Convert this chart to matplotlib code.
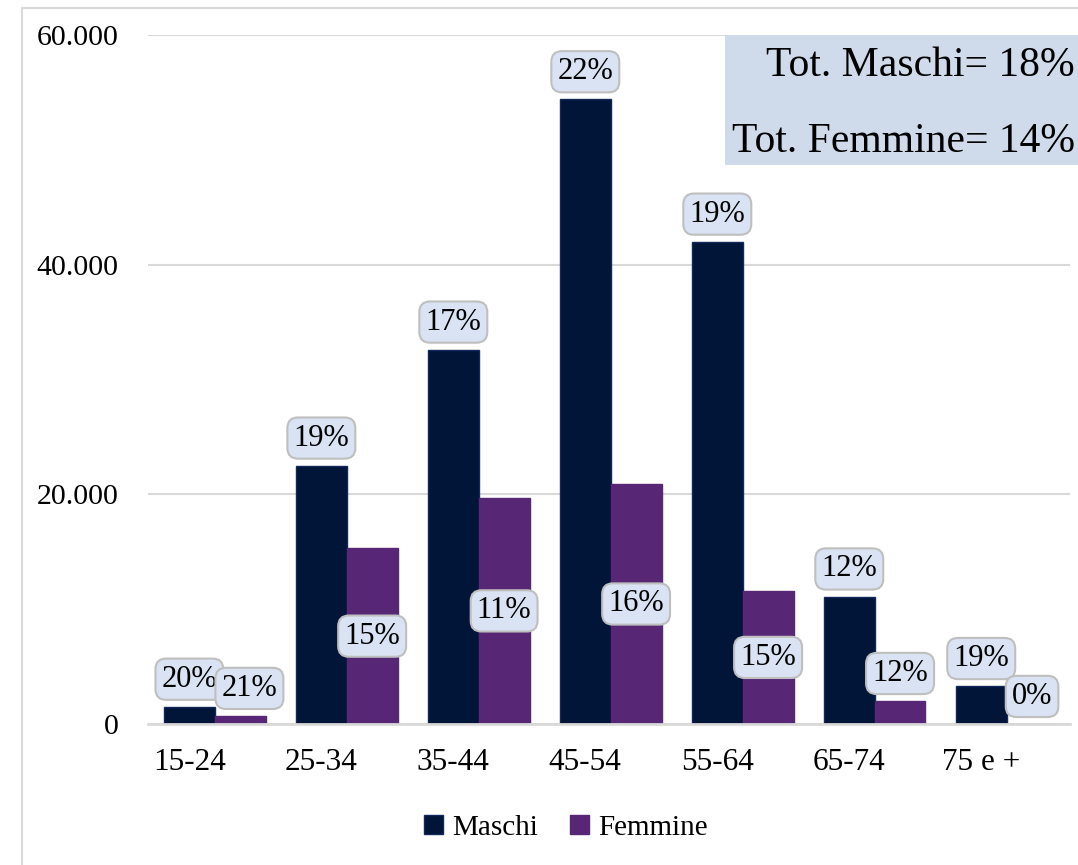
import matplotlib.pyplot as plt
import numpy as np
from matplotlib.patches import Rectangle

plt.rcParams['font.family'] = ['Liberation Serif', 'DejaVu Serif']

categories = ['15-24', '25-34', '35-44', '45-54', '55-64', '65-74', '75 e +']
maschi = [1500, 22500, 32600, 54400, 42000, 11100, 3300]
femmine = [700, 15300, 19700, 20900, 11600, 2000, 0]
maschi_pct = ['20%', '19%', '17%', '22%', '19%', '12%', '19%']
femmine_pct = ['21%', '15%', '11%', '16%', '15%', '12%', '0%']
femmine_pos = ['above', 'center', 'center', 'center', 'center', 'above', 'above']
totali = ['Tot. Maschi= 18%', 'Tot. Femmine= 14%']

col_m = '#001538'
col_f = '#572675'
w = 0.385

fig = plt.figure(figsize=(10.78, 8.65), dpi=100)
ax = fig.add_axes([148/1078, 141/865, 922/1078, 689/865])

x = np.arange(len(categories))
ax.bar(x - w/2, maschi, w, color=col_m, edgecolor='#10285a', linewidth=1, label='Maschi', zorder=3)
ax.bar(x + w/2, femmine, w, color=col_f, edgecolor=col_f, linewidth=1, label='Femmine', zorder=3)

ax.set_xlim(-0.5 - 0.006, 6.5 - 0.02)
ax.set_ylim(0, 60000)
ax.set_yticks([0, 20000, 40000, 60000])
ax.set_yticklabels(['0', '20.000', '40.000', '60.000'])
ax.yaxis.grid(True, color='#d9d9d9', linewidth=1.5, zorder=0)
ax.set_axisbelow(True)
for s in ['top', 'right', 'left']:
    ax.spines[s].set_visible(False)
ax.spines['bottom'].set_color('#d9d9d9')
ax.spines['bottom'].set_linewidth(2)
ax.spines['bottom'].set_zorder(4)
ax.tick_params(axis='y', length=0, labelsize=21.5, pad=21)
ax.tick_params(axis='x', length=0, labelsize=22.5, pad=17)
ax.set_xticks(x - w/2)
ax.set_xticklabels(categories)

box = dict(boxstyle='round,pad=0.2,rounding_size=0.35', fc='#dae3f3', ec='#bfbfbf', lw=1.5)
for i in range(len(categories)):
    ax.text(x[i] - w/2, maschi[i] + 2400, maschi_pct[i], ha='center', va='center',
            fontsize=22, bbox=box, zorder=5)
    if femmine_pos[i] == 'center':
        yf = femmine[i] / 2
    else:
        yf = femmine[i] + 2400
    xf = x[i] + w/2 + (0.07 if i == 0 else 0)
    ax.text(xf, yf, femmine_pct[i], ha='center', va='center',
            fontsize=22, bbox=box, zorder=5)

# riquadro totali
fig.patches.append(Rectangle((725/1078, 1 - 165/865), 360/1078, 130/865,
                             transform=fig.transFigure, fc='#cfdbea', ec='none', zorder=6))
fig.text(1075/1078, 1 - 66/865, totali[0], ha='right', va='center', fontsize=30, zorder=7)
fig.text(1075/1078, 1 - 142/865, totali[1], ha='right', va='center', fontsize=30, zorder=7)

# bordo grafico
fig.patches.append(Rectangle((22/1078, -0.1), 1.2, 1 - 8/865 + 0.1,
                             transform=fig.transFigure, fc='none', ec='#d9d9d9', lw=1.5))

fig.legend(loc='center', bbox_to_anchor=(566/1078, 1 - 828/865), ncol=2, frameon=False,
           fontsize=21, handlelength=0.65, handleheight=0.65, handletextpad=0.3, columnspacing=1.1)

fig.savefig('out.png', dpi=100)
